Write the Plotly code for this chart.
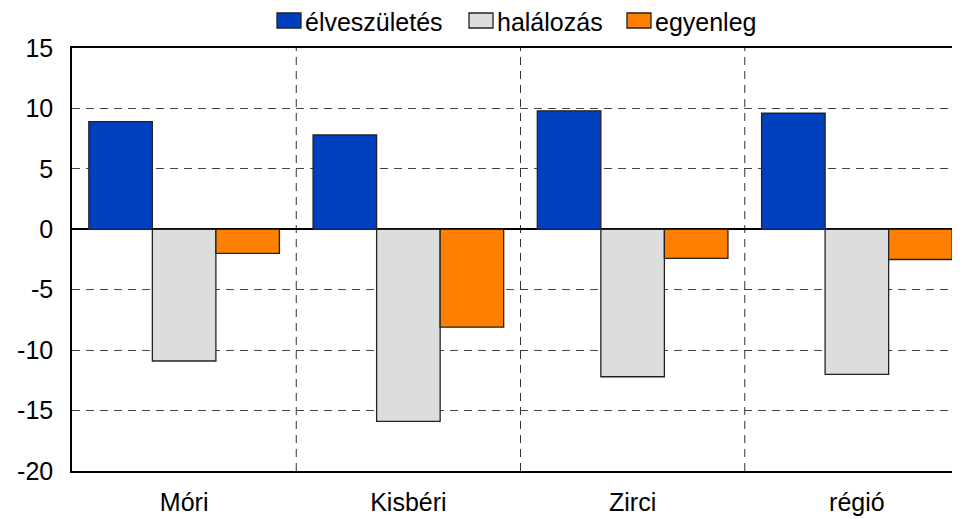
import plotly.graph_objects as go

categories = ["Móri", "Kisbéri", "Zirci", "régió"]
series_names = ["élveszületés", "halálozás", "egyenleg"]
elveszuletes = [8.9, 7.8, 9.8, 9.6]
halalozas = [-10.9, -15.9, -12.2, -12.0]
egyenleg = [-2.0, -8.1, -2.4, -2.5]
y_ticks = [15, 10, 5, 0, -5, -10, -15, -20]
y_tick_labels = ["15", "10", "5", "0", "-5", "-10", "-15", "-20"]

FONT = "Liberation Sans, Arial, sans-serif"
colors = ["#0040BF", "#DDDDDD", "#FF8000"]
outline = dict(color="#222222", width=1.3)

# the page body has an 8px margin, so the figure is 8px smaller and offset
OFF = 8
W, H = 960 - OFF, 519 - OFF
ML, MR, MT, MB = 72 - OFF, 0, 48 - OFF, 48
PW, PH = W - ML - MR, H - MT - MB


def px_x(p):
    return (p - OFF - ML) / PW


def px_y(p):
    return (H - MB - (p - OFF)) / PH


fig = go.Figure()
for name, vals, col in zip(series_names, [elveszuletes, halalozas, egyenleg], colors):
    fig.add_trace(go.Bar(name=name, x=categories, y=vals,
                         marker=dict(color=col, line=outline)))

# category separators
for xb in [0.5, 1.5, 2.5]:
    fig.add_shape(type="line", xref="x", yref="paper", x0=xb, x1=xb, y0=0, y1=1,
                  line=dict(color="#333333", width=1, dash="8px,6px"), layer="below")

# manual legend (large swatches like the reference)
legend_sw_left = [277, 469, 627]
for name, col, sx in zip(series_names, colors, legend_sw_left):
    fig.add_shape(type="rect", xref="paper", yref="paper",
                  x0=px_x(sx), x1=px_x(sx + 24), y0=px_y(28), y1=px_y(13),
                  fillcolor=col, line=dict(color="#222222", width=1.3))
    fig.add_annotation(xref="paper", yref="paper", x=px_x(sx + 27), y=px_y(22),
                       xanchor="left", yanchor="middle", text=name, showarrow=False,
                       borderpad=0, font=dict(size=25, family=FONT, color="black"))

fig.update_layout(
    width=W, height=H,
    margin=dict(l=ML, r=MR, t=MT, b=MB, autoexpand=False),
    paper_bgcolor="white", plot_bgcolor="white",
    barmode="group", bargap=0.15, bargroupgap=0,
    font=dict(family=FONT, color="black", size=25),
    showlegend=False,
    xaxis=dict(range=[-0.5, 3.5 - (969 - 960) / 224], showline=True, mirror=True,
               linecolor="black", linewidth=1.5, showgrid=False, ticks="",
               tickfont=dict(size=25), ticklabelstandoff=8, automargin=False),
    yaxis=dict(range=[-20, 15], tickvals=y_ticks, ticktext=y_tick_labels,
               showline=True, mirror=False,
               linecolor="black", linewidth=1.5, showgrid=True, gridcolor="#444444",
               griddash="8px,6px", gridwidth=1, zeroline=True, zerolinecolor="black",
               zerolinewidth=1.5, ticks="", tickfont=dict(size=25),
               ticklabelstandoff=12, automargin=False),
)

fig.write_html("out.html")
